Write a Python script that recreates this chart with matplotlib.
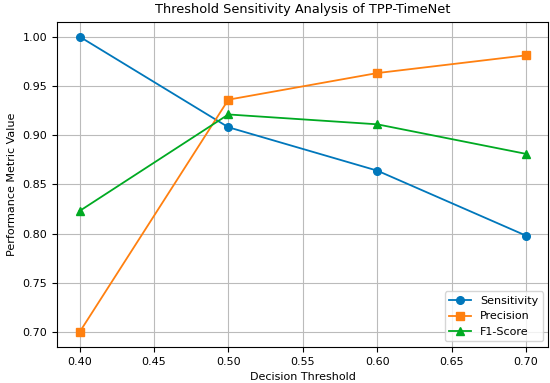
import matplotlib
matplotlib.use("Agg")
import matplotlib.pyplot as plt

thresholds = [0.4, 0.5, 0.6, 0.7]
sensitivity = [1.000, 0.908, 0.864, 0.798]
precision = [0.700, 0.936, 0.963, 0.981]
f1_score = [0.823, 0.921, 0.911, 0.881]

fig, ax = plt.subplots(figsize=(5.5, 3.83), dpi=100)
ax.plot(thresholds, sensitivity, marker='o', color='#0077BB', label='Sensitivity', markersize=5.5, linewidth=1.3)
ax.plot(thresholds, precision, marker='s', color='#FF8010', label='Precision', markersize=5.5, linewidth=1.3)
ax.plot(thresholds, f1_score, marker='^', color='#00AA22', label='F1-Score', markersize=5.5, linewidth=1.3)

ax.set_title('Threshold Sensitivity Analysis of TPP-TimeNet', fontsize=9.3)
ax.set_xlabel('Decision Threshold', fontsize=8)
ax.set_ylabel('Performance Metric Value', fontsize=8)
ax.tick_params(labelsize=8)
ax.grid(True, color='#BBBBBB', linewidth=0.8)
ax.legend(loc='lower right', fontsize=8)
fig.subplots_adjust(left=0.104, right=0.997, top=0.943, bottom=0.094)
fig.savefig('out.png', dpi=100)
